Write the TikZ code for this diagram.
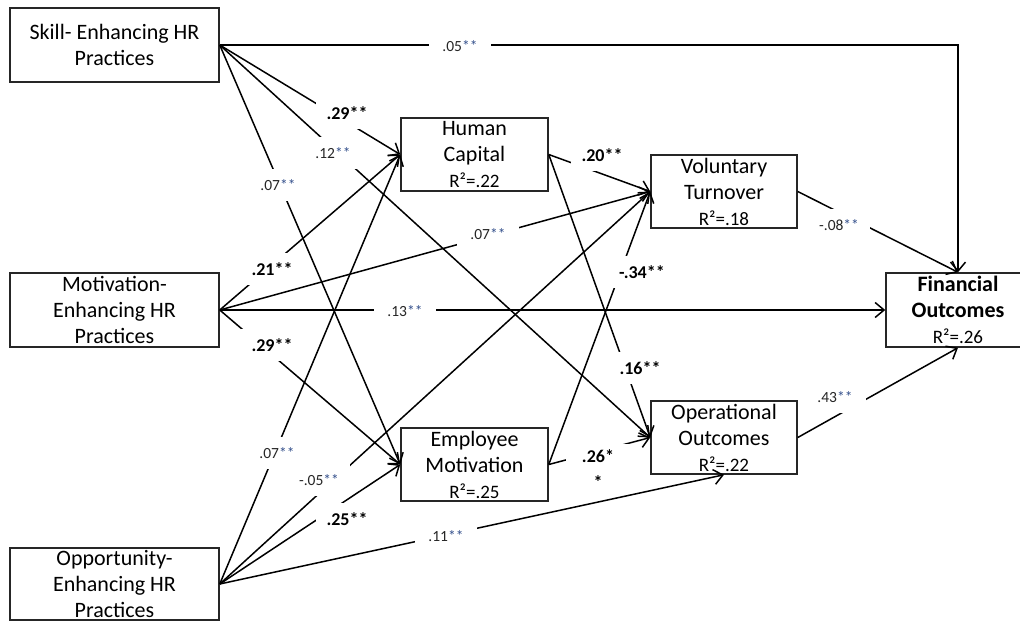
\documentclass[tikz,border=0pt]{standalone}
\usepackage{fontspec}
\setmainfont{Carlito}
\usetikzlibrary{arrows.meta}
\definecolor{starblue}{RGB}{52,80,140}
\definecolor{numgray}{RGB}{38,38,38}
\newcommand\sig{\textcolor{starblue}{**}}
\newcommand\rsq[1]{{\fontsize{19}{22}\selectfont R²=#1}}

\begin{document}
\begin{tikzpicture}[x=1pt,y=-1pt,
  box/.style={draw=black!85, line width=1.5pt, rectangle, inner sep=0pt,
    align=center, font=\fontsize{22}{26}\selectfont},
  wide/.style={box, minimum width=209pt, minimum height=74pt},
  mid/.style={box, minimum width=147pt, minimum height=73pt},
  path/.style={line width=1.5pt, black, -{Straight Barb[length=9pt,width=15pt]}},
  lab/.style={fill=white, inner sep=0pt, minimum width=62pt, minimum height=32pt,
    font=\fontsize{15.5}{18}\selectfont, text=numgray},
  blab/.style={lab, font=\fontsize{18}{20}\selectfont\bfseries, text=black},
]
\useasboundingbox (0,0) rectangle (1020,621);
\clip (0,0) rectangle (1020,621);

% HR practice bundles
\node[wide] (skill) at (114.5,45) {Skill- Enhancing HR\\Practices};
\node[wide] (moti)  at (114.5,310) {Motivation-\\Enhancing HR\\Practices};
\node[wide, minimum height=72pt] (opp) at (114.5,584) {Opportunity-\\Enhancing HR\\Practices};

% mediators and outcomes
\node[mid] (hc) at (474.5,154.5) {Human\\Capital\\\rsq{.22}};
\node[mid] (em) at (474.5,464.5) {Employee\\Motivation\\\rsq{.25}};
\node[mid, minimum width=146pt] (vt) at (724,191.5) {Voluntary\\Turnover\\\rsq{.18}};
\node[mid, minimum width=146pt] (oo) at (724,437.5) {Operational\\Outcomes\\\rsq{.22}};
\node[box, minimum width=144pt, minimum height=74pt] (fin) at (958,310)
  {\textbf{Financial}\\\textbf{Outcomes}\\\rsq{.26}};

% paths from skill-enhancing practices
\draw[path] (skill.east) -| (fin.north);
\draw[path] (skill.east) -- (hc.west);
\draw[path] (skill.east) -- (oo.west);
\draw[path] (skill.east) -- (em.west);

% paths from motivation-enhancing practices
\draw[path] (moti.east) -- (hc.west);
\draw[path] (moti.east) -- (vt.west);
\draw[path] (moti.east) -- (fin.west);
\draw[path] (moti.east) -- (em.west);

% paths from opportunity-enhancing practices
\draw[path] (opp.east) -- (hc.west);
\draw[path] (opp.east) -- (vt.west);
\draw[path] (opp.east) -- (em.west);
\draw[path] (opp.east) -- (oo.south);

% paths from the mediators
\draw[path] (hc.east) -- (vt.west);
\draw[path] (hc.east) -- (oo.west);
\draw[path] (em.east) -- (vt.west);
\draw[path] (em.east) -- (oo.west);
\draw[path] (vt.east) -- (fin.north);
\draw[path] (oo.east) -- (fin.south);

% path coefficients
\node[lab]  (c05)  at (460,46)  {.05\sig};
\node[blab] (c29a) at (347,113) {.29**};
\node[lab]  (c12)  at (333,153) {.12\sig};
\node[lab]  (c07a) at (278,185) {.07\sig};
\node[blab] (c21)  at (272,269) {.21**};
\node[lab]  (c07b) at (488,234) {.07\sig};
\node[lab]  (c13)  at (405,311) {.13\sig};
\node[blab] (c29b) at (272,345) {.29**};
\node[lab]  (c07c) at (277,453) {.07\sig};
\node[lab]  (c05n) at (319,480) {-.05\sig};
\node[blab] (c25)  at (347,519) {.25**};
\node[lab]  (c11)  at (446,536) {.11\sig};
\node[blab] (c20)  at (602,155) {.20**};
\node[blab] (c34)  at (642,272) {-.34**};
\node[blab] (c16)  at (640,368) {.16**};
\node[blab, align=center, minimum width=64pt, minimum height=50pt,
  font=\fontsize{18}{21}\selectfont\bfseries] (c26) at (598,469) {.26*\\[5pt]*};
\node[lab]  (c08)  at (839,225) {-.08\sig};
\node[lab]  (c43)  at (835,397) {.43\sig};
\end{tikzpicture}
\end{document}
